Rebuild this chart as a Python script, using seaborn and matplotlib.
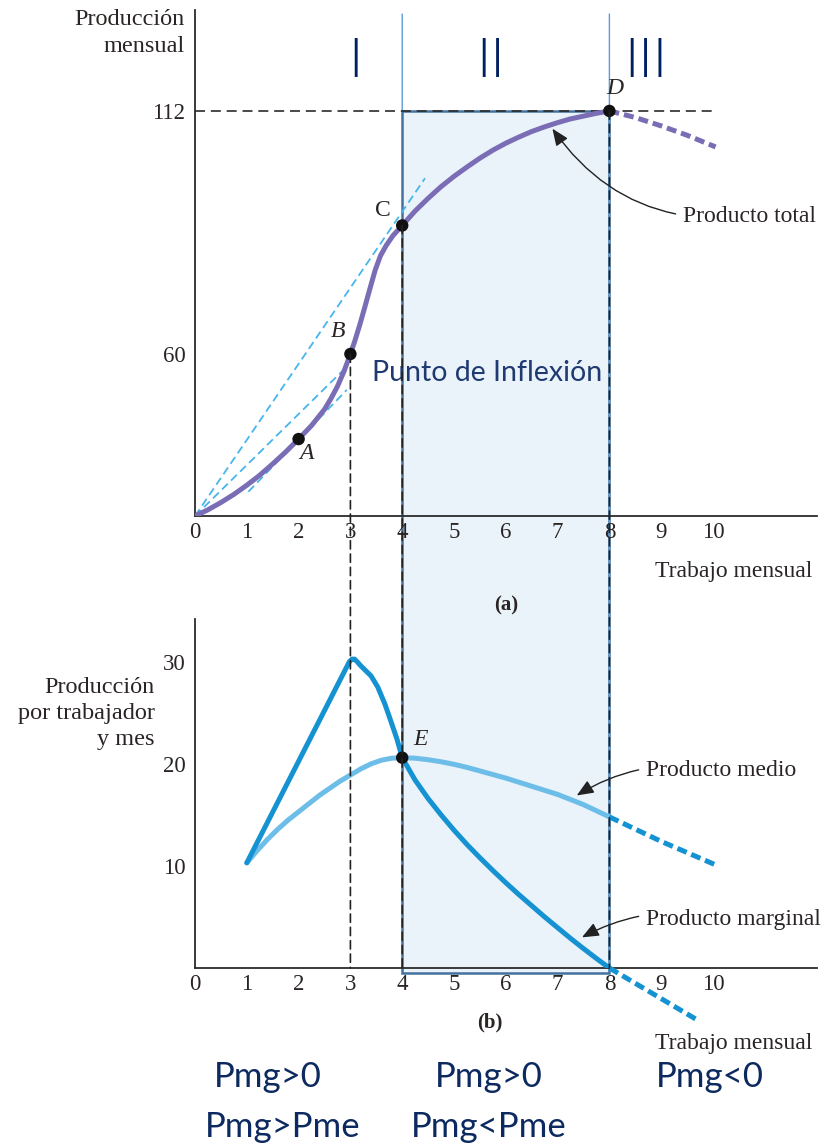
import numpy as np
import matplotlib
matplotlib.use("Agg")
import matplotlib.pyplot as plt
import seaborn as sns
from matplotlib.patches import Rectangle, ConnectionPatch

# ---------------- data ----------------
labor_tp = [0, 0.25, 0.5, 0.75, 1.0, 1.25, 1.5, 1.75, 2.0, 2.25, 2.5, 2.625, 2.75, 2.875, 3.0,
            3.08, 3.18, 3.28, 3.38, 3.48, 3.58, 3.69, 3.82, 4.0,
            4.25, 4.5, 4.75, 5.0, 5.25, 5.5, 5.75, 6.0, 6.25, 6.5, 6.75, 7.0, 7.25, 7.5, 7.75, 8.0]
total_product = [0, 2.3, 5.0, 8.0, 11.4, 15.1, 19.3, 23.7, 28.5, 33.5, 39.5, 43.5, 48.0, 53.5, 60.0,
                 62.6, 66.2, 70.1, 74.1, 78.0, 81.0, 83.2, 85.3, 87.5,
                 90.6, 93.3, 95.8, 98.0, 100.0, 101.9, 103.6, 105.1, 106.4, 107.6, 108.6, 109.5,
                 110.3, 110.9, 111.5, 112.0]
labor_tp_dash = [8.0, 8.5, 9.0, 9.5, 10.05]
total_product_dash = [112.0, 110.6, 108.8, 106.8, 104.3]

labor_mp = [1.0, 2.93, 2.98, 3.03, 3.08, 3.13, 3.2, 3.4, 3.53, 3.67, 3.8, 3.9, 4.0,
            4.25, 4.5, 4.75, 5.0, 5.25, 5.5, 5.75, 6.0, 6.25, 6.5, 6.75, 7.0, 7.25, 7.5, 7.75, 8.0]
marginal_product = [10.3, 29.5, 30.0, 30.25, 30.25, 30.0, 29.6, 28.6, 27.5, 25.8, 23.9, 22.4, 20.6,
                    18.4, 16.6, 15.0, 13.5, 12.1, 10.8, 9.55, 8.35, 7.2, 6.1, 5.0, 3.95, 2.9,
                    1.9, 0.93, 0.0]
labor_mp_dash = [8.0, 9.7]
marginal_product_dash = [0.0, -5.1]

labor_ap = [1.0, 1.2, 1.4, 1.6, 1.8, 2.0, 2.2, 2.4, 2.6, 2.8, 3.0, 3.2, 3.4, 3.6, 3.8, 4.0,
            4.25, 4.5, 4.75, 5.0, 5.25, 5.5, 5.75, 6.0, 6.25, 6.5, 6.75, 7.0, 7.25, 7.5, 7.75, 8.0]
average_product = [10.3, 11.5, 12.6, 13.6, 14.5, 15.3, 16.1, 16.9, 17.6, 18.3, 18.9, 19.5, 20.0,
                   20.35, 20.55, 20.6, 20.55, 20.4, 20.2, 19.95, 19.65, 19.3, 18.95, 18.6, 18.2,
                   17.8, 17.4, 17.0, 16.5, 16.0, 15.4, 14.8]
labor_ap_dash = [8.0, 9.0, 10.05]
average_product_dash = [14.8, 12.4, 10.1]

ray_labor = [[0, 4.44], [0, 2.93], [1.03, 2.93]]
ray_output = [[0, 97.6], [0, 55.3], [9.0, 46.7]]

top_point_names = ["A", "B", "C", "D"]
top_point_labor = [2.0, 3.0, 4.0, 8.0]
top_point_output = [28.5, 60.0, 87.5, 112.0]
e_point_labor = [4.0]
e_point_output = [20.6]

x_ticks = list(range(11))
top_yticks = [60, 112]
bottom_yticks = [10, 20, 30]
stage_labels = ["I", "II", "III"]
stage_conditions = [["Pmg>0", "Pmg>Pme"], ["Pmg>0", "Pmg<Pme"], ["Pmg<0"]]

# ---------------- style ----------------
sns.set_style("white")
plt.rcParams["font.family"] = ["Liberation Serif", "DejaVu Serif"]
plt.rcParams["axes.unicode_minus"] = False

W, H = 829, 1148
fig = plt.figure(figsize=(W / 100, H / 100), dpi=100)
fig.patch.set_facecolor("white")


def fx(px):
    return px / W


def fy(py):
    return 1 - py / H


TXT = "#2a2424"
PURPLE = "#7a6db6"
MP_BLUE = "#1592d2"
AP_BLUE = "#6dbde9"
RAY_BLUE = "#47b5ec"

X0, X1 = 195, 817
PX_PER_L = 51.8


# top axes: piecewise-linear output scale (as in the printed figure)
def fwd(y):
    y = np.asarray(y, dtype=float)
    return np.where(y <= 60, y * 2.7, 162 + (y - 60) * 4.673)


def inv(p):
    p = np.asarray(p, dtype=float)
    return np.where(p <= 162, p / 2.7, 60 + (p - 162) / 4.673)


top = fig.add_axes([fx(X0), fy(516), (X1 - X0) / W, (516 - 10) / H])
bot = fig.add_axes([fx(X0), fy(968), (X1 - X0) / W, (968 - 619) / H])

for ax in (top, bot):
    ax.set_facecolor("none")
    ax.set_xlim(0, (X1 - X0) / PX_PER_L)
    for s in ("top", "right"):
        ax.spines[s].set_visible(False)
    for s in ("left", "bottom"):
        ax.spines[s].set_color("#2b2b2b")
        ax.spines[s].set_linewidth(1.3)
    ax.set_xticks(x_ticks)
    ax.set_xticklabels([str(t) for t in x_ticks])
    ax.tick_params(direction="in", length=9.5, width=1.2, color="#2b2b2b",
                   labelsize=16.5, labelcolor=TXT)
    ax.tick_params(axis="x", pad=4)
    ax.tick_params(axis="y", pad=7)

top.set_yscale("function", functions=(fwd, inv))
top.set_ylim(0, 133.6)
top.set_yticks(top_yticks)
top.set_yticklabels([str(t) for t in top_yticks])
top.minorticks_off()

bot.set_ylim(0, (968 - 619) / 10.21)
bot.set_yticks(bottom_yticks)
bot.set_yticklabels([str(t) for t in bottom_yticks])

# ---------------- stage II shaded box (spans both panels) ----------------
fig.canvas.draw()
inv_fig = fig.transFigure.inverted()
p_tl = inv_fig.transform(top.transData.transform((4, 112)))
p_br = inv_fig.transform(bot.transData.transform((8, -0.5)))
fig.add_artist(Rectangle((p_tl[0], p_br[1]), p_br[0] - p_tl[0], p_tl[1] - p_br[1],
                         transform=fig.transFigure, facecolor="#eaf2fa",
                         edgecolor="#44729e", linewidth=1.8, zorder=-1))

# thin stage separators
fig.add_artist(ConnectionPatch(xyA=(4, 0.992), coordsA=top.get_xaxis_transform(),
                               xyB=(4, 112), coordsB=top.transData,
                               color="#5b9bd5", lw=1.0, zorder=-0.5))
fig.add_artist(ConnectionPatch(xyA=(8, 0.992), coordsA=top.get_xaxis_transform(),
                               xyB=(8, 0), coordsB=bot.transData,
                               color="#5b9bd5", lw=1.0, zorder=-0.5))

# ---------------- top panel ----------------
top.plot([0, 10], [112, 112], color="#2b2b2b", lw=1.2, dashes=(6, 3.5), zorder=1)
for rl, ro in zip(ray_labor, ray_output):
    top.plot(rl, ro, color=RAY_BLUE, lw=1.3, dashes=(4.5, 2.5), zorder=2)

sns.lineplot(x=labor_tp, y=total_product, ax=top, color=PURPLE, linewidth=3.6,
             sort=False, zorder=3, solid_joinstyle="round")
sns.lineplot(x=labor_tp_dash, y=total_product_dash, ax=top, color=PURPLE, linewidth=3.6,
             sort=False, zorder=3, linestyle=(0, (2.0, 1.0)))
sns.scatterplot(x=top_point_labor, y=top_point_output, ax=top, color="#111111", s=80,
                edgecolor="none", zorder=6, clip_on=False)

label_offsets = {"A": (8, -14), "B": (-12, 22), "C": (-19, 15), "D": (5, 22)}
for name, lx, ly in zip(top_point_names, top_point_labor, top_point_output):
    top.annotate(name, xy=(lx, ly), xytext=label_offsets[name], textcoords="offset pixels",
                 ha="center", va="center", fontsize=17, color=TXT,
                 fontstyle="normal" if name == "C" else "italic")

top.annotate("Producto total", xy=(6.9, 108.2), xytext=(683, H - 216),
             textcoords="figure pixels", ha="left", va="center", fontsize=17, color=TXT,
             arrowprops=dict(arrowstyle="-|>,head_length=0.6,head_width=0.25", color="#222222",
                             lw=1.0, connectionstyle="arc3,rad=-0.3", shrinkA=3, shrinkB=0))

# vertical dashed guides from B, C, D down to the lower axis
for (lx, ly) in [(3, 60), (4, 87.5), (8, 112)]:
    fig.add_artist(ConnectionPatch(xyA=(lx, ly), coordsA=top.transData,
                                   xyB=(lx, 0), coordsB=bot.transData,
                                   color="#222222", lw=1.2, linestyle=(0, (5, 3)), zorder=4))

# ---------------- bottom panel ----------------
sns.lineplot(x=labor_ap, y=average_product, ax=bot, color=AP_BLUE, linewidth=3.6,
             sort=False, zorder=3, solid_joinstyle="round")
sns.lineplot(x=labor_ap_dash, y=average_product_dash, ax=bot, color=MP_BLUE, linewidth=3.6,
             sort=False, zorder=3, linestyle=(0, (2.0, 1.0)), clip_on=False)
sns.lineplot(x=labor_mp, y=marginal_product, ax=bot, color=MP_BLUE, linewidth=3.6,
             sort=False, zorder=3, solid_joinstyle="round")
sns.lineplot(x=labor_mp_dash, y=marginal_product_dash, ax=bot, color=MP_BLUE, linewidth=3.6,
             sort=False, zorder=3, linestyle=(0, (2.0, 1.0)), clip_on=False)
sns.scatterplot(x=e_point_labor, y=e_point_output, ax=bot, color="#111111", s=80,
                edgecolor="none", zorder=6)
bot.annotate("E", xy=(e_point_labor[0], e_point_output[0]), xytext=(18, 18),
             textcoords="offset pixels", ha="center", va="center", fontsize=17,
             color=TXT, fontstyle="italic")

bot.annotate("Producto medio", xy=(7.37, 16.9), xytext=(646, H - 770),
             textcoords="figure pixels", ha="left", va="center", fontsize=17, color=TXT,
             arrowprops=dict(arrowstyle="-|>,head_length=0.6,head_width=0.25", color="#222222",
                             lw=1.0, connectionstyle="arc3,rad=0.2", shrinkA=3, shrinkB=0))
bot.annotate("Producto marginal", xy=(7.47, 3.0), xytext=(646, H - 920),
             textcoords="figure pixels", ha="left", va="center", fontsize=17, color=TXT,
             arrowprops=dict(arrowstyle="-|>,head_length=0.6,head_width=0.25", color="#222222",
                             lw=1.0, connectionstyle="arc3,rad=0.2", shrinkA=3, shrinkB=0))

# ---------------- axis titles and panel tags ----------------
fig.text(fx(185), fy(9), "Producción\nmensual", ha="right", va="top", fontsize=17.5,
         color=TXT, linespacing=1.35)
fig.text(fx(155), fy(677), "Producción\npor trabajador\ny mes", ha="right", va="top",
         fontsize=17.5, color=TXT, linespacing=1.3)
fig.text(fx(655), fy(572), "Trabajo mensual", ha="left", va="center", fontsize=17, color=TXT)
fig.text(fx(655), fy(1043), "Trabajo mensual", ha="left", va="center", fontsize=17, color=TXT)
fig.text(fx(506), fy(605), "(a)", ha="center", va="center", fontsize=15, color=TXT,
         fontweight="bold")
fig.text(fx(490), fy(1022), "(b)", ha="center", va="center", fontsize=15, color=TXT,
         fontweight="bold")

# ---------------- stage annotations ----------------
sans = ["Lato", "DejaVu Sans"]
for lab, cx in zip(stage_labels, [355, 491, 646]):
    fig.text(fx(cx), fy(62), lab, ha="center", va="center", fontsize=40, color="#002060",
             family=sans, fontweight=300)
fig.text(fx(487), fy(373), "Punto de Inflexión", ha="center", va="center", fontsize=20.5,
         color="#1f3a70", family=sans)
for cond, cx in zip(stage_conditions, [[268, 283], [489, 489], [710]]):
    for line, x, yy in zip(cond, cx, [1077, 1127]):
        fig.text(fx(x), fy(yy), line, ha="center", va="center", fontsize=25,
                 color="#0d2a60", family=sans)

fig.savefig("out.png", dpi=100, facecolor="white")
